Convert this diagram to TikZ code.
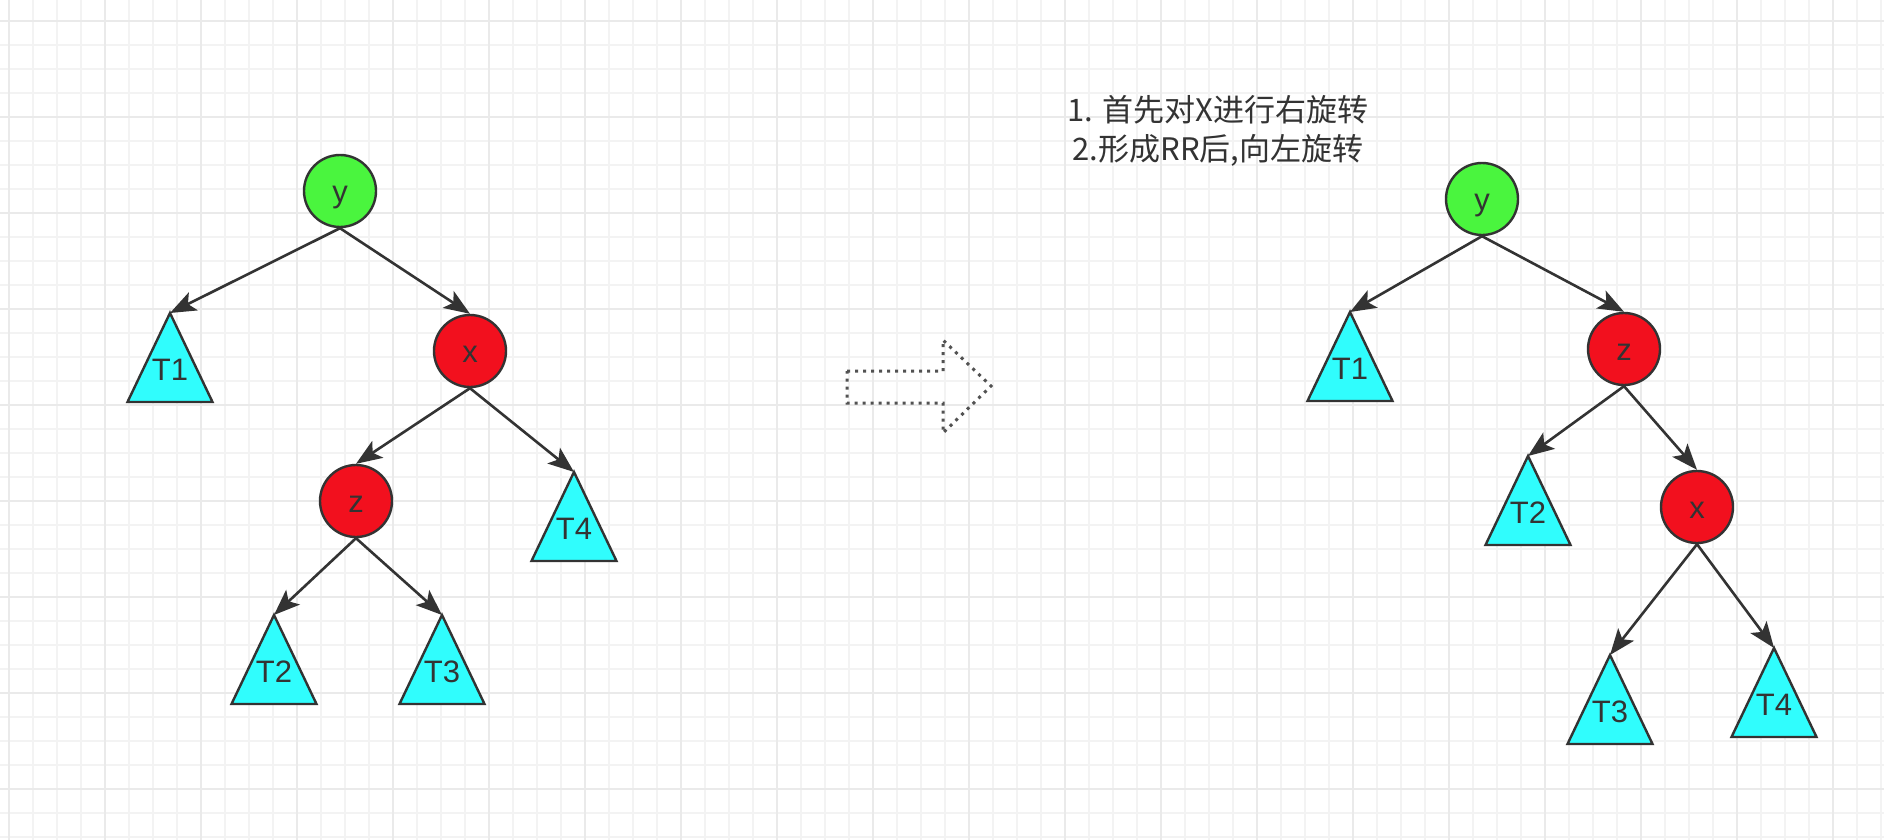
\documentclass[tikz,border=0pt]{standalone}
\usepackage{fontspec}
\setmainfont{Liberation Sans}
\newfontfamily\cjkfont{Noto Sans CJK SC}
\usetikzlibrary{arrows.meta,shapes.geometric}
\definecolor{gridminor}{RGB}{243,243,243}
\definecolor{gridmajor}{RGB}{234,234,234}
\definecolor{ink}{RGB}{51,51,51}
\definecolor{rootgreen}{RGB}{74,245,62}
\definecolor{nodered}{RGB}{242,16,30}
\definecolor{subcyan}{RGB}{48,253,253}
\begin{document}
\begin{tikzpicture}[x=0.5pt,y=-0.5pt,
    minor/.style={gridminor, line width=1pt},
    major/.style={gridmajor, line width=1pt},
    treenode/.style={circle, draw=ink, line width=1.2pt, minimum size=36pt, inner sep=0pt,
      text=ink, font=\fontsize{15.5}{15.5}\selectfont, text height=11pt, text depth=0pt},
    subtree/.style={isosceles triangle, isosceles triangle stretches, shape border rotate=90,
      minimum width=42.5pt, minimum height=44.5pt, inner sep=0pt, outer sep=0pt,
      draw=ink, line width=1.2pt, fill=subcyan, anchor=apex,
      label={[text=ink, font=\fontsize{15.5}{15.5}\selectfont, anchor=center, yshift=16pt]below:#1}},
    childlink/.style={draw=ink, line width=1.3pt, -{Stealth[length=13pt, width=10pt, inset=3pt]}},
    hollow/.style={draw=ink!85, line width=1.5pt, dash pattern=on 1.5pt off 2.5pt},
    note/.style={text=ink, font=\cjkfont\fontsize{15.5}{19.5}\selectfont, align=center}]
    \useasboundingbox (0,0) rectangle (1884,840);
    \fill[white] (0,0) rectangle (1884,840);
    \foreach \i in {0,...,78} \draw[minor] (9+24*\i,0) -- (9+24*\i,840);
    \foreach \j in {0,...,34} \draw[minor] (0,21+24*\j) -- (1884,21+24*\j);
    \foreach \i in {0,...,19} \draw[major] (9+96*\i,0) -- (9+96*\i,840);
    \foreach \j in {0,...,8} \draw[major] (0,21+96*\j) -- (1884,21+96*\j);

    \node[treenode, fill=rootgreen] (ly) at (340,191) {y};
    \node[treenode, fill=nodered] (lx) at (470,351) {x};
    \node[treenode, fill=nodered] (lz) at (356,501) {z};
    \node[subtree=T1] (lt1) at (170,313) {};
    \node[subtree=T4] (lt4) at (574,472) {};
    \node[subtree=T2] (lt2) at (274,615) {};
    \node[subtree=T3] (lt3) at (442,615) {};
    \draw[childlink] (ly.south) -- (lt1.apex);
    \draw[childlink] (ly.south) -- (lx.north);
    \draw[childlink] (lx.south) -- (lz.north);
    \draw[childlink] (lx.south) -- (lt4.apex);
    \draw[childlink] (lz.south) -- (lt2.apex);
    \draw[childlink] (lz.south) -- (lt3.apex);

    \draw[hollow] (847,371) -- (943,371) -- (943,340) -- (991,386) -- (943,433) -- (943,403) -- (847,403) -- cycle;

    \node[note] (steps) at (1218,131) {1. 首先对X进行右旋转\\2.形成RR后,向左旋转};

    \node[treenode, fill=rootgreen] (ry) at (1482,199) {y};
    \node[treenode, fill=nodered] (rz) at (1624,349) {z};
    \node[treenode, fill=nodered] (rx) at (1697,507) {x};
    \node[subtree=T1] (rt1) at (1350,312) {};
    \node[subtree=T2] (rt2) at (1528,456) {};
    \node[subtree=T3] (rt3) at (1610,655) {};
    \node[subtree=T4] (rt4) at (1774,648) {};
    \draw[childlink] (ry.south) -- (rt1.apex);
    \draw[childlink] (ry.south) -- (rz.north);
    \draw[childlink] (rz.south) -- (rt2.apex);
    \draw[childlink] (rz.south) -- (rx.north);
    \draw[childlink] (rx.south) -- (rt3.apex);
    \draw[childlink] (rx.south) -- (rt4.apex);
\end{tikzpicture}
\end{document}
